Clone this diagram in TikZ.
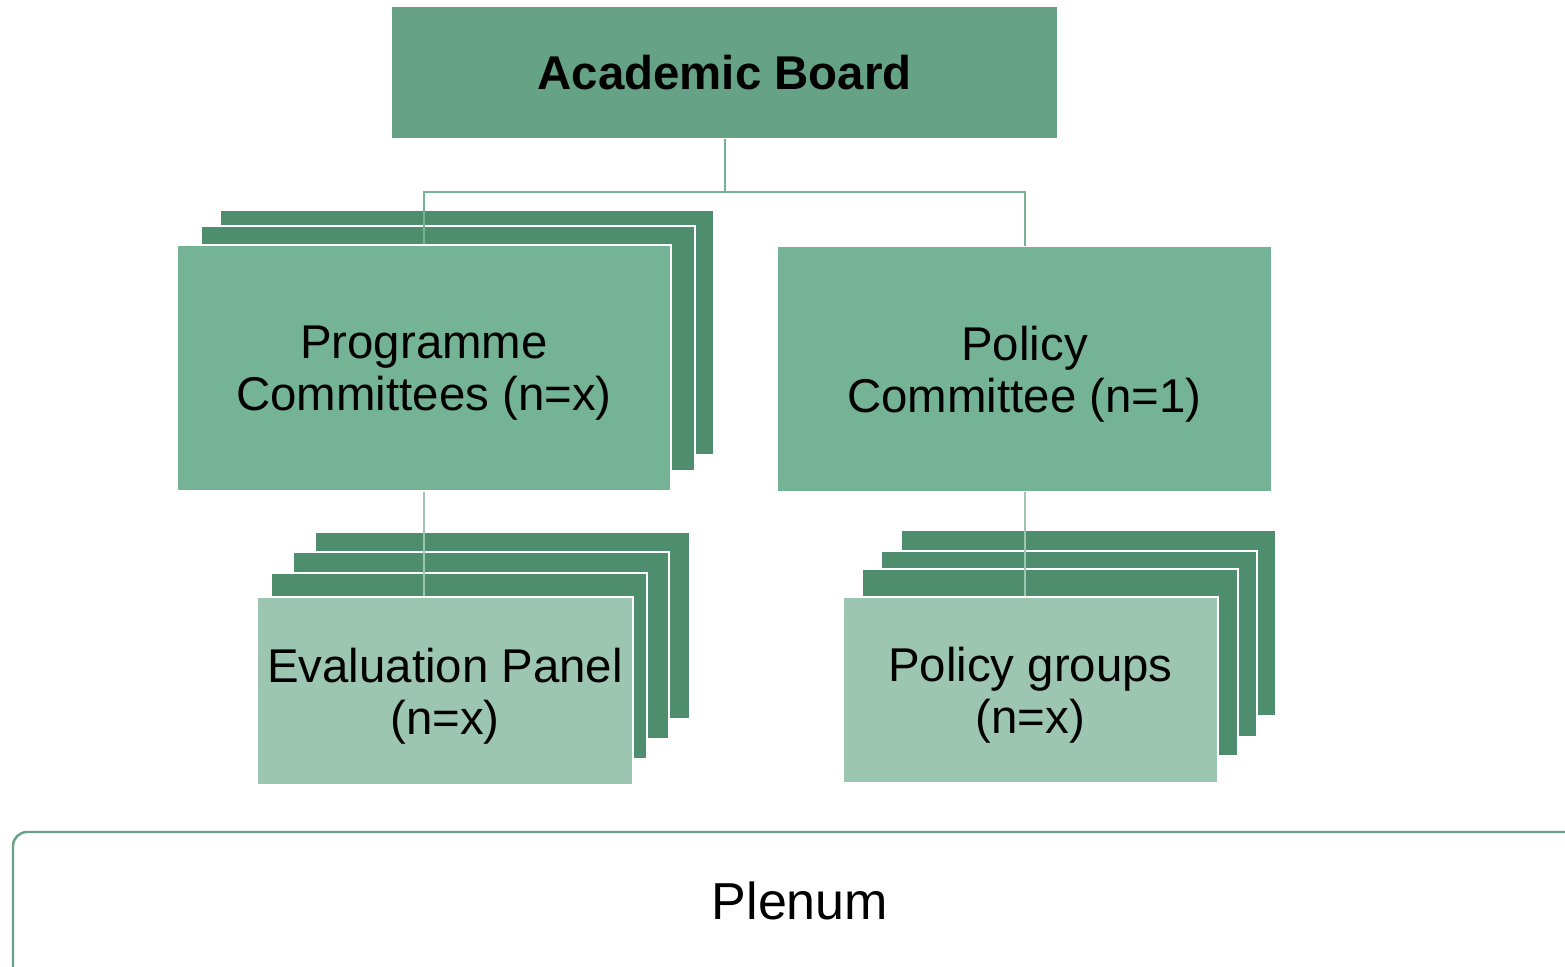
\documentclass[tikz,border=0pt]{standalone}
\usepackage{fontspec}
\setmainfont{Liberation Sans}

\definecolor{boardgreen}{HTML}{66A386}
\definecolor{midgreen}{HTML}{75B396}
\definecolor{darkgreen}{HTML}{4E8E6F}
\definecolor{lightgreen}{HTML}{9DC6B2}

\tikzset{
  box/.style={draw=white, line width=1pt, inner sep=0pt, align=center,
    font=\fontsize{23.7}{26}\selectfont, text depth=0pt},
  sheet/.style={fill=darkgreen, draw=white, line width=1pt},
  link/.style={draw=midgreen, line width=1pt},
  sublink/.style={draw=lightgreen, line width=1pt}
}

\begin{document}
\begin{tikzpicture}[x=0.5pt, y=-0.5pt]

\clip (0,0) rectangle (1565,966);

% back sheets
\path[sheet] (220,210) rectangle (714,455);
\path[sheet] (201,226) rectangle (695,471);

\path[sheet] (315,532) rectangle (690,719);
\path[sheet] (293,552) rectangle (669,739);
\path[sheet] (271,573) rectangle (647,759);

\path[sheet] (901,530) rectangle (1276,716);
\path[sheet] (881,551) rectangle (1257,737);
\path[sheet] (862,569) rectangle (1238,756);

% boxes
\node[box, fill=boardgreen, draw=none, minimum width=332.5pt, minimum height=65.5pt, text depth=,
  font=\fontsize{23.7}{26}\selectfont\bfseries] (board) at (724.5,72.5) {Academic Board};
\node[box, fill=midgreen, minimum width=247pt, minimum height=123pt] (prog) at (424,368)
  {Programme\\Committees (n=x)};
\node[box, fill=midgreen, draw=none, minimum width=246.5pt, minimum height=122pt] (pol) at (1024.5,369)
  {Policy\\Committee (n=1)};
\node[box, fill=lightgreen, minimum width=188pt, minimum height=94pt] (eval) at (445,691)
  {Evaluation Panel\\(n=x)};
\node[box, fill=lightgreen, minimum width=187.5pt, minimum height=93pt] (groups) at (1030.5,690)
  {Policy groups\\(n=x)};

% plenum
\draw[boardgreen, line width=1.2pt, rounded corners=7pt] (13,832) rectangle (1620,1010);
\node[font=\fontsize{26}{30}\selectfont] (plenum) at (800,901) {Plenum};

% connectors
\draw[link] (board.south) -- ++(0,53) -| (prog.north);
\draw[link] (board.south) -- ++(0,53) -| (pol.north);
\draw[sublink] (prog.south) -- (eval.north -| prog.south);
\draw[sublink] (pol.south) -- (groups.north -| pol.south);

\end{tikzpicture}
\end{document}
